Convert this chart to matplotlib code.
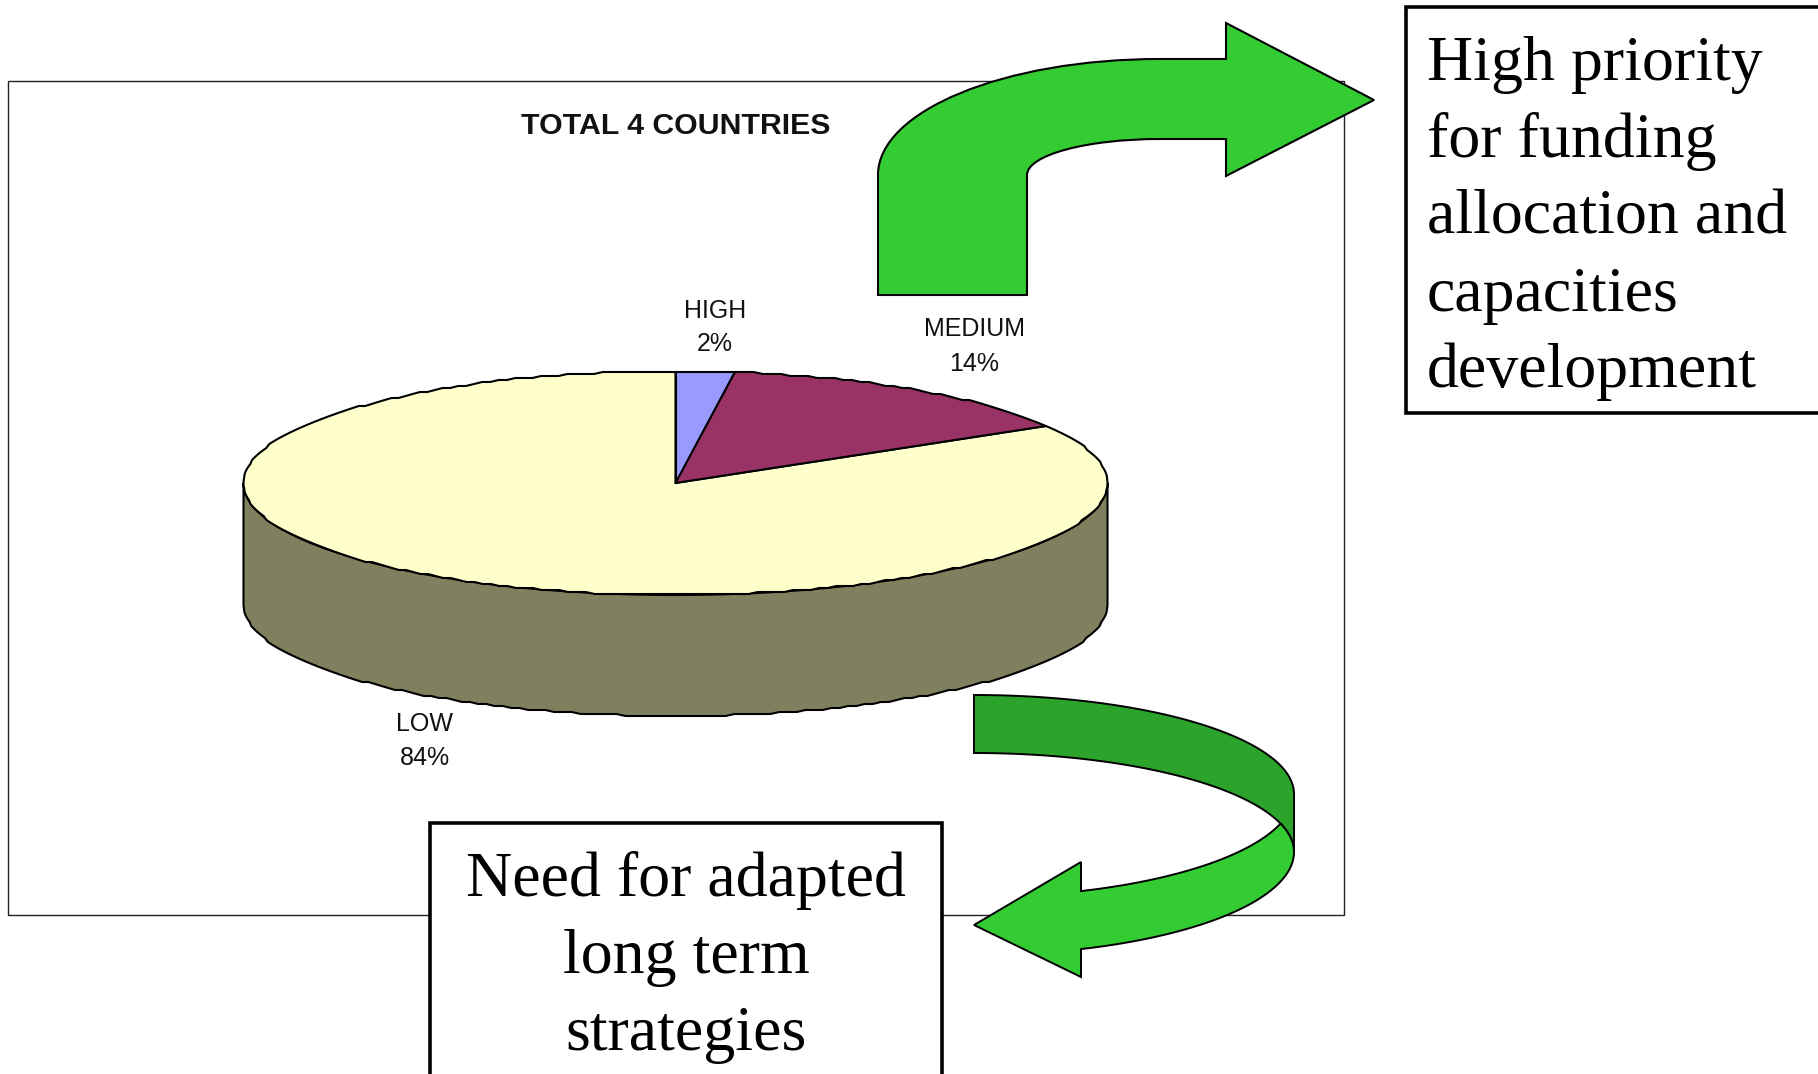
import numpy as np
import matplotlib
matplotlib.use("Agg")
import matplotlib.pyplot as plt
from matplotlib.patches import Polygon, Rectangle, PathPatch
from matplotlib.path import Path

# ---- data ----
categories = ["HIGH", "MEDIUM", "LOW"]
values = [2.2, 14.2, 83.6]
slice_colors = ["#9999FF", "#993366", "#FFFFCC"]
title = "TOTAL 4 COUNTRIES"
note_top = ["High priority", "for funding", "allocation and", "capacities", "development"]
note_bottom = ["Need for adapted", "long term", "strategies"]

W, H = 1818, 1074
fig = plt.figure(figsize=(W / 100, H / 100), dpi=100, facecolor="white")
ax = fig.add_axes([0, 0, 1, 1])
ax.set_xlim(0, W)
ax.set_ylim(H, 0)
ax.axis("off")

GREEN = "#33CC33"
DARK = "#2CA42C"
SIDE = "#80805F"
SANS = "Liberation Sans"
SERIF = "Liberation Serif"

# chart frame
ax.add_patch(Rectangle((8, 81), 1336, 834, fc="white", ec="#222222", lw=1.0, zorder=1))
ax.text(676, 126, title, family=SANS, weight="bold", fontsize=21.8,
        ha="center", va="center", color="#111111", zorder=5)

# 3-D pie
cx, cy, rx, ry, depth = 675.5, 483, 432, 112, 121


def jag(a, step=2.0):
    return np.round(np.asarray(a) / step) * step


def rim(t0, t1, n):
    t = np.radians(np.linspace(t0, t1, n))
    return cx + rx * np.sin(t), cy - ry * np.cos(t)


# side wall
xs, ys = rim(90, 270, 150)
side = np.r_[np.c_[xs, ys + depth], np.c_[xs[::-1], ys[::-1]]]
side[:150, 1] = jag(side[:150, 1])
ax.add_patch(Polygon(side, closed=True, fc=SIDE, ec="black", lw=1.5, zorder=2))

# top slices
total = sum(values)
draw_order = [2, 0, 1]
angles = np.cumsum([0] + values) / total * 360
for i in draw_order:
    a0, a1 = angles[i], angles[i + 1]
    n = max(int((a1 - a0) / 1.2), 4)
    xs, ys = rim(a0, a1, n)
    ys = jag(ys)
    xs, ys = np.r_[cx, xs], np.r_[cy, ys]
    ax.add_patch(Polygon(np.c_[xs, ys], closed=True, fc=slice_colors[i],
                         ec="black", lw=1.5, joinstyle="round", zorder=3))

# data labels
label_pos = [(715, 311, 344), (974, 329, 364), (425, 724, 758)]
for name, v, (lx, y1, y2) in zip(categories, values, label_pos):
    ax.text(lx, y1, name, family=SANS, fontsize=18, ha="center", va="center",
            color="#111111", zorder=5)
    ax.text(lx, y2, f"{round(v)}%", family=SANS, fontsize=18, ha="center", va="center",
            color="#111111", zorder=5)

# upper bent arrow
k = 0.5523
V = [(878, 295), (878, 175), (878, 175 - 116 * k), (1160 - 282 * k, 59), (1160, 59),
     (1226, 59), (1226, 23), (1374, 100), (1226, 176), (1226, 139),
     (1160, 139), (1160 - 133 * k, 139), (1027, 175 - 36 * k), (1027, 175),
     (1027, 295), (878, 295)]
C = [Path.MOVETO, Path.LINETO, Path.CURVE4, Path.CURVE4, Path.CURVE4,
     Path.LINETO, Path.LINETO, Path.LINETO, Path.LINETO, Path.LINETO,
     Path.LINETO, Path.CURVE4, Path.CURVE4, Path.CURVE4,
     Path.LINETO, Path.CLOSEPOLY]
ax.add_patch(PathPatch(Path(V, C), fc=GREEN, ec="black", lw=1.5, zorder=4))

# lower curved arrow
ax0, rxa, rya = 974, 320, 99
t = np.linspace(0, np.pi / 2, 80)
outer_top = np.c_[ax0 + rxa * np.sin(t), 794 - rya * np.cos(t)]
inner_top = np.c_[ax0 + rxa * np.sin(t), 852 - rya * np.cos(t)]
dark_poly = np.r_[outer_top, inner_top[::-1]]
ax.add_patch(Polygon(dark_poly, closed=True, fc=DARK, ec="black", lw=1.4, zorder=4))

x_end = 1081
t_end = np.arcsin((x_end - ax0) / rxa)
t_start = np.arcsin((1280 - ax0) / rxa)
tl = np.linspace(t_start, t_end, 60)
inner_low = np.c_[ax0 + rxa * np.sin(tl), 794 + 103 * np.cos(tl)]
tl2 = np.linspace(t_end, np.pi / 2, 60)
outer_low = np.c_[ax0 + rxa * np.sin(tl2), 852 + 103 * np.cos(tl2)]
tl3 = np.linspace(np.pi / 2, t_start, 20)
edge = np.c_[ax0 + rxa * np.sin(tl3), 852 - rya * np.cos(tl3)]
head = np.array([(x_end, 862), (974, 925), (x_end, 977)])
light_poly = np.r_[inner_low, head, outer_low, edge]
ax.add_patch(Polygon(light_poly, closed=True, fc=GREEN, ec="black", lw=1.4, zorder=4))

# note boxes
ax.add_patch(Rectangle((1406, 7), 440, 406, fc="white", ec="black", lw=2.6, zorder=6))
for s, y in zip(note_top, [80, 157, 234, 311, 387]):
    ax.text(1427, y, s, family=SERIF, fontsize=46, ha="left", va="baseline",
            color="black", zorder=7)

ax.add_patch(Rectangle((430, 823), 512, 300, fc="white", ec="black", lw=2.6, zorder=6))
for s, y in zip(note_bottom, [896, 973, 1050]):
    ax.text(686, y, s, family=SERIF, fontsize=46, ha="center", va="baseline",
            color="black", zorder=7)

fig.savefig("out.png", dpi=100, facecolor="white")
